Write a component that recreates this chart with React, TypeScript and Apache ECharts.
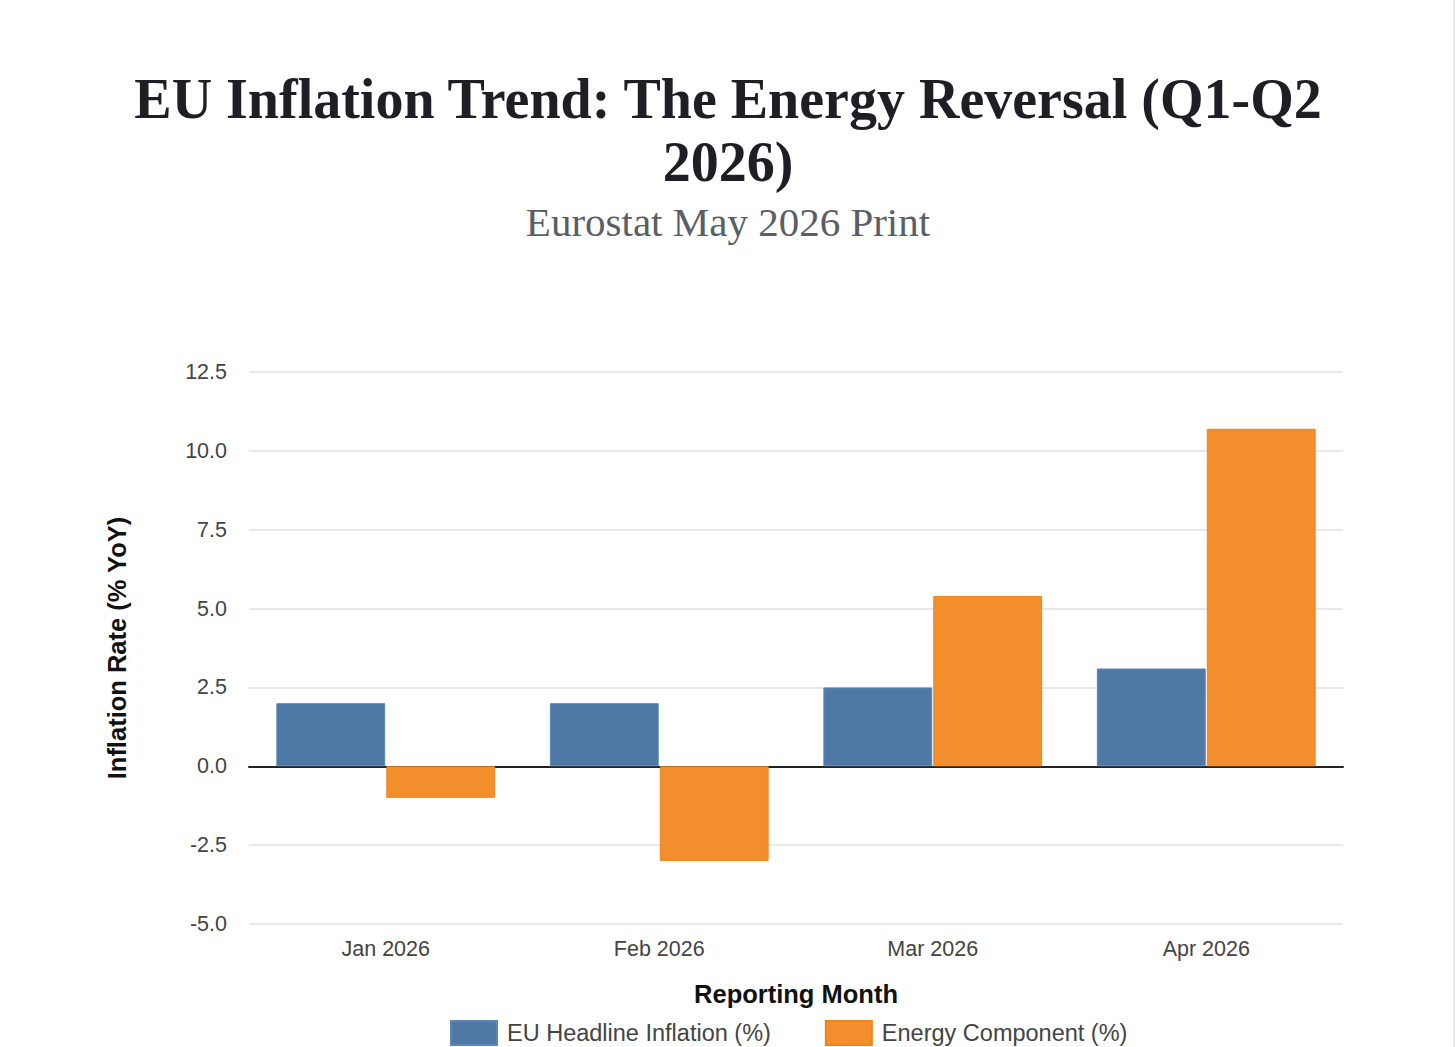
import React, { useEffect, useRef } from "react";
import * as echarts from "echarts";

const categories = ["Jan 2026", "Feb 2026", "Mar 2026", "Apr 2026"];
const headline = [2.0, 2.0, 2.5, 3.1];
const energy = [-1.0, -3.0, 5.4, 10.7];
const seriesNames = ["EU Headline Inflation (%)", "Energy Component (%)"];
const titleText = "EU Inflation Trend: The Energy Reversal (Q1-Q2\n2026)";
const subtitleText = "Eurostat May 2026 Print";
const yAxisTitle = "Inflation Rate (% YoY)";
const xAxisTitle = "Reporting Month";

export default function App() {
  const ref = useRef<HTMLDivElement>(null);
  useEffect(() => {
    if (!ref.current) return;
    const chart = echarts.init(ref.current, null, { renderer: "svg" });
    const sans = "'Liberation Sans', Arial, Helvetica, sans-serif";
    const serif = "'Liberation Serif', 'Times New Roman', serif";
    chart.setOption({
      animation: false,
      backgroundColor: "#ffffff",
      title: [
        {
          text: titleText,
          left: "center",
          top: 62,
          textStyle: {
            fontFamily: serif,
            fontWeight: "bold",
            fontSize: 56,
            lineHeight: 63,
            color: "#1e1f24",
          },
        },
        {
          text: subtitleText,
          left: "center",
          top: 196,
          textStyle: {
            fontFamily: serif,
            fontWeight: "normal",
            fontSize: 41,
            color: "#5a5e66",
          },
        },
      ],
      legend: {
        left: 450,
        top: 1020,
        padding: 0,
        itemWidth: 46,
        itemHeight: 24,
        itemGap: 54,
        icon: "rect",
        textStyle: {
          fontFamily: sans,
          fontSize: 23.5,
          color: "#444444",
          padding: [0, 0, 0, 5],
        },
        data: seriesNames,
      },
      grid: { left: 249, right: 113, top: 372, bottom: 123, containLabel: false },
      xAxis: {
        type: "category",
        data: categories,
        name: xAxisTitle,
        nameLocation: "middle",
        nameGap: 57,
        nameTextStyle: { fontFamily: sans, fontWeight: "bold", fontSize: 25.5, color: "#111111" },
        axisLine: { show: true, onZero: true, lineStyle: { color: "#222222", width: 2 } },
        axisTick: { show: false },
        axisLabel: { fontFamily: sans, fontSize: 21.5, color: "#444444", margin: 14 },
      },
      yAxis: {
        type: "value",
        min: -5,
        max: 12.5,
        interval: 2.5,
        name: yAxisTitle,
        nameLocation: "middle",
        nameGap: 119,
        nameTextStyle: { fontFamily: sans, fontWeight: "bold", fontSize: 25.5, color: "#111111" },
        axisLine: { show: false },
        axisTick: { show: false },
        axisLabel: {
          fontFamily: sans,
          fontSize: 21.5,
          color: "#444444",
          margin: 22,
          formatter: (v: number) => v.toFixed(1),
        },
        splitLine: { show: true, lineStyle: { color: "#e6e8eb", width: 2 } },
      },
      series: [
        {
          name: seriesNames[0],
          type: "bar",
          data: headline,
          barGap: "1%",
          barCategoryGap: "20%",
          itemStyle: { color: "#4e79a7", borderColor: "#5b86b6", borderWidth: 1 },
        },
        {
          name: seriesNames[1],
          type: "bar",
          data: energy,
          itemStyle: { color: "#f28e2b", borderColor: "#f0841c", borderWidth: 1 },
        },
      ],
      graphic: [
        {
          type: "line",
          shape: { x1: 1454, y1: 0, x2: 1454, y2: 1047 },
          style: { stroke: "#ebebeb", lineWidth: 2 },
          silent: true,
        },
      ],
    });
    return () => chart.dispose();
  }, []);
  return (
    <div
      ref={ref}
      style={{ position: "fixed", left: 0, top: 0, width: 1456, height: 1047 }}
    />
  );
}
